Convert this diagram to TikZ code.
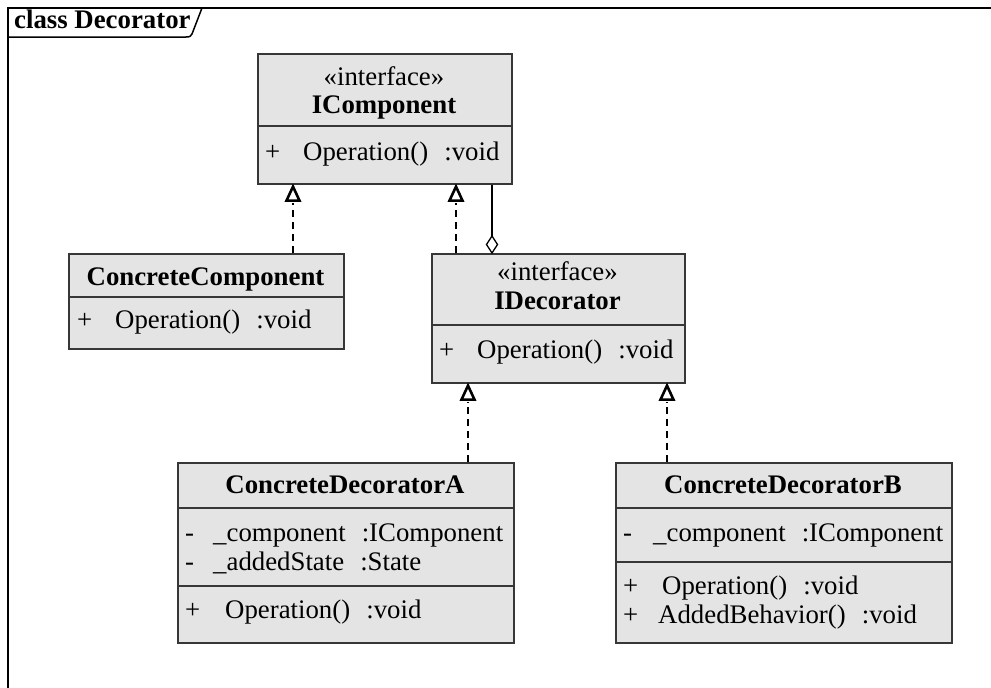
\documentclass[tikz,border=0pt]{standalone}
\usepackage{fontspec}
\setmainfont{Liberation Serif}
\definecolor{boxfill}{RGB}{228,228,228}
\definecolor{boxline}{RGB}{55,55,55}
\begin{document}
\begin{tikzpicture}[x=1pt,y=-1pt,
  classbox/.style={draw=boxline, fill=boxfill, line width=1.6pt, inner sep=0pt, anchor=north west},
  sepline/.style={draw=boxline, line width=1.6pt},
  txt/.style={inner sep=0pt, anchor=base west, font=\fontsize{26.8}{30}\selectfont},
  ttl/.style={inner sep=0pt, anchor=base, font=\bfseries\fontsize{26.8}{30}\selectfont},
  realize/.style={draw=black, line width=1.5pt, dash pattern=on 7pt off 5pt, shorten >=16pt},
  hollowtip/.style={draw=black, fill=white, line width=2.6pt, line join=miter},
  aggr/.style={draw=black, line width=1.3pt, shorten >=17pt},
  diamondtip/.style={draw=black, fill=white, line width=1.3pt}]
\useasboundingbox (0,0) rectangle (991,688);
\fill[white] (0,0) rectangle (991,688);
% frame
\draw[line width=2pt] (8,688) -- (8,8) -- (991,8);
\draw[line width=1.5pt] (8,37) -- (186,37) .. controls (190,37) and (191,36) .. (192,34) -- (202,8);
\node[ttl, anchor=base west] (frametitle) at (14,28) {class Decorator};
% IComponent
\node[classbox, minimum width=254pt, minimum height=130pt] (icomp) at (257,53) {};
\draw[sepline] (257,126) -- (511,126);
\node[txt, anchor=base] (icst) at (384,85) {«interface»};
\node[ttl] (icname) at (384,113) {IComponent};
\node[txt] (icv1) at (265,160) {+};
\node[txt] (icop1) at (303,160) {Operation()\hspace{0.6em}:void};
% ConcreteComponent
\node[classbox, minimum width=275pt, minimum height=95pt] (ccomp) at (68,253) {};
\draw[sepline] (68,297) -- (343,297);
\node[ttl] (ccname) at (205.5,285) {ConcreteComponent};
\node[txt] (ccv1) at (77,328) {+};
\node[txt] (ccop1) at (115,328) {Operation()\hspace{0.6em}:void};
% IDecorator
\node[classbox, minimum width=253pt, minimum height=129pt] (idec) at (431,253) {};
\draw[sepline] (431,325) -- (684,325);
\node[txt, anchor=base] (idst) at (557.5,280) {«interface»};
\node[ttl] (idname) at (557.5,309) {IDecorator};
\node[txt] (idv1) at (439,358) {+};
\node[txt] (idop1) at (477,358) {Operation()\hspace{0.6em}:void};
% ConcreteDecoratorA
\node[classbox, minimum width=336pt, minimum height=180pt] (cda) at (177,462) {};
\draw[sepline] (177,508) -- (513,508);
\draw[sepline] (177,586) -- (513,586);
\node[ttl] (caname) at (345,493) {ConcreteDecoratorA};
\node[txt] (cav1) at (185,541) {-};
\node[txt] (caat1) at (213,541) {\_component\hspace{0.6em}:IComponent};
\node[txt] (cav2) at (185,570) {-};
\node[txt] (caat2) at (213,570) {\_addedState\hspace{0.6em}:State};
\node[txt] (cav3) at (185,618) {+};
\node[txt] (caop1) at (225,618) {Operation()\hspace{0.6em}:void};
% ConcreteDecoratorB
\node[classbox, minimum width=336pt, minimum height=180pt] (cdb) at (615,462) {};
\draw[sepline] (615,508) -- (951,508);
\draw[sepline] (615,562) -- (951,562);
\node[ttl] (cbname) at (783,493) {ConcreteDecoratorB};
\node[txt] (cbv1) at (623,541) {-};
\node[txt] (cbat1) at (653,541) {\_component\hspace{0.6em}:IComponent};
\node[txt] (cbv2) at (623,594) {+};
\node[txt] (cbop1) at (662,594) {Operation()\hspace{0.6em}:void};
\node[txt] (cbv3) at (623,623) {+};
\node[txt] (cbop2) at (658,623) {AddedBehavior()\hspace{0.6em}:void};
% connector end points
\coordinate (t1) at ([xshift=36pt,yshift=-2pt]icomp.south west);
\coordinate (t2) at ([xshift=199pt,yshift=-2pt]icomp.south west);
\coordinate (t3) at ([xshift=37pt,yshift=-2pt]idec.south west);
\coordinate (t4) at ([xshift=236pt,yshift=-2pt]idec.south west);
\coordinate (d1) at ([xshift=61pt]idec.north west);
% connectors
\draw[realize] ([xshift=225pt]ccomp.north west) -- (t1);
\draw[hollowtip] (t1) -- ++(-6.5,14) -- ++(13,0) -- cycle;
\draw[realize] ([xshift=25pt]idec.north west) -- (t2);
\draw[hollowtip] (t2) -- ++(-6.5,14) -- ++(13,0) -- cycle;
\draw[aggr] ([xshift=235pt]icomp.south west) -- (d1);
\draw[diamondtip] (d1) -- ++(-5.5,-8.5) -- ++(5.5,-8.5) -- ++(5.5,8.5) -- cycle;
\draw[realize] ([xshift=291pt]cda.north west) -- (t3);
\draw[hollowtip] (t3) -- ++(-6.5,14) -- ++(13,0) -- cycle;
\draw[realize] ([xshift=52pt]cdb.north west) -- (t4);
\draw[hollowtip] (t4) -- ++(-6.5,14) -- ++(13,0) -- cycle;
\end{tikzpicture}
\end{document}
